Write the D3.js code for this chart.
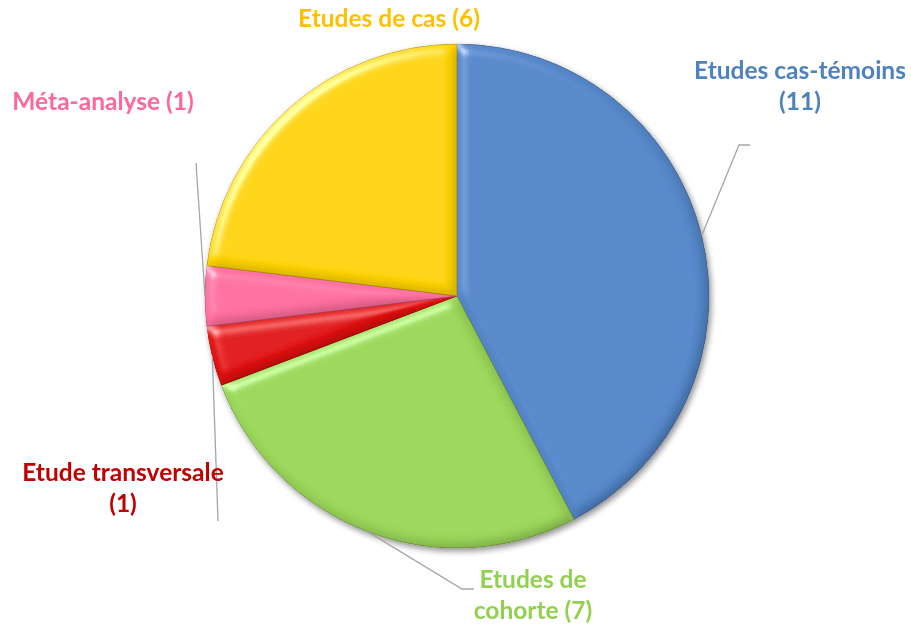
<!DOCTYPE html>
<html>
<head>
<meta charset="utf-8">
<script src="https://cdn.jsdelivr.net/npm/d3@7"></script>
<style>
  body { margin: 0; background: #fff; }
  svg { display: block; }
  text { font-family: Lato, "Open Sans", sans-serif; font-weight: 700; }
</style>
</head>
<body>
<svg id="chart" width="911" height="630"></svg>
<script>
// data, clockwise from 12 o'clock
const categories = ['Etudes cas-témoins', 'Etudes de cohorte', 'Etude transversale', 'Méta-analyse', 'Etudes de cas'];
const counts = [11, 7, 1, 1, 6];
const labelLines = [
  ['Etudes cas-témoins', '(11)'],
  ['Etudes de', 'cohorte (7)'],
  ['Etude transversale', '(1)'],
  ['Méta-analyse (1)'],
  ['Etudes de cas (6)']
];
const sliceColors = ['#5587c9', '#9bd75a', '#e00a0a', '#ff6f9f', '#ffd400'];
const textColors = ['#4f81bd', '#92d050', '#c00000', '#ff6699', '#ffc000'];

// label anchor (text centre x, first baseline y) and leader elbow, if any
const labelPos = [
  { x: 800, y: 79, elbow: [[739, 145], [750, 145]] },
  { x: 533, y: 588, elbow: [[462, 589], [474, 589]] },
  { x: 123, y: 481, elbow: [[218, 521]] },
  { x: 103, y: 110, elbow: [[196, 163]] },
  { x: 389, y: 27, elbow: null }
];

const svg = d3.select('#chart');
const cx = 457, cy = 296, radius = 252;

const defs = svg.append('defs');

const shadow = defs.append('filter').attr('id', 'shadow')
  .attr('x', '-10%').attr('y', '-10%').attr('width', '120%').attr('height', '120%');
shadow.append('feGaussianBlur').attr('in', 'SourceAlpha').attr('stdDeviation', 3).attr('result', 'b');
shadow.append('feOffset').attr('in', 'b').attr('dx', 2).attr('dy', 3).attr('result', 'o');
shadow.append('feComponentTransfer').attr('in', 'o').attr('result', 'os')
  .append('feFuncA').attr('type', 'linear').attr('slope', 0.45);
const sm = shadow.append('feMerge');
sm.append('feMergeNode').attr('in', 'os');
sm.append('feMergeNode').attr('in', 'SourceGraphic');

// bevel look: lighting on a blurred alpha of each slice
const bevel = defs.append('filter').attr('id', 'bevel')
  .attr('x', '-5%').attr('y', '-5%').attr('width', '110%').attr('height', '110%');
bevel.append('feGaussianBlur').attr('in', 'SourceAlpha').attr('stdDeviation', 6).attr('result', 'blur');
bevel.append('feSpecularLighting').attr('in', 'blur').attr('surfaceScale', 5)
  .attr('specularConstant', 0.7).attr('specularExponent', 45)
  .attr('lighting-color', '#ffffff').attr('result', 'spec')
  .append('feDistantLight').attr('azimuth', 225).attr('elevation', 45);
bevel.append('feComposite').attr('in', 'spec').attr('in2', 'SourceAlpha').attr('operator', 'in').attr('result', 'specIn');
bevel.append('feDiffuseLighting').attr('in', 'blur').attr('surfaceScale', 5)
  .attr('diffuseConstant', 1).attr('lighting-color', '#ffffff').attr('result', 'diff')
  .append('feDistantLight').attr('azimuth', 225).attr('elevation', 60);
bevel.append('feComposite').attr('in', 'SourceGraphic').attr('in2', 'diff')
  .attr('operator', 'arithmetic').attr('k1', 0.8).attr('k2', 0.31).attr('k3', 0).attr('k4', 0).attr('result', 'shaded');
bevel.append('feComposite').attr('in', 'specIn').attr('in2', 'shaded')
  .attr('operator', 'arithmetic').attr('k1', 0).attr('k2', 0.6).attr('k3', 1).attr('k4', 0).attr('result', 'lit');
bevel.append('feComposite').attr('in', 'lit').attr('in2', 'SourceAlpha').attr('operator', 'in');

const data = categories.map((c, i) => ({ name: c, value: counts[i], i }));
const pie = d3.pie().value(d => d.value).sort(null);
const arcs = pie(data);
const arc = d3.arc().innerRadius(0).outerRadius(radius);

const g = svg.append('g').attr('transform', `translate(${cx},${cy})`).attr('filter', 'url(#shadow)');
g.selectAll('path.slice')
  .data(arcs)
  .join('path')
  .attr('class', 'slice')
  .attr('d', arc)
  .attr('fill', d => sliceColors[d.data.i])
  .attr('stroke', d => d3.color(sliceColors[d.data.i]).darker(0.8))
  .attr('stroke-width', 0.8)
  .attr('filter', 'url(#bevel)');

// leader lines from the slice edge at its mid angle
const leaders = svg.append('g').attr('fill', 'none').attr('stroke', '#a6a6a6').attr('stroke-width', 1.3);
arcs.forEach(a => {
  const lp = labelPos[a.data.i];
  if (!lp.elbow) return;
  const mid = (a.startAngle + a.endAngle) / 2;
  const start = [cx + radius * Math.sin(mid), cy - radius * Math.cos(mid)];
  leaders.append('path').attr('d', d3.line()([start, ...lp.elbow]));
});

// labels
const labels = svg.append('g').attr('font-size', 24.5).attr('text-anchor', 'middle');
arcs.forEach(a => {
  const i = a.data.i, lp = labelPos[i];
  const t = labels.append('text').attr('fill', textColors[i]);
  labelLines[i].forEach((line, k) => {
    t.append('tspan').attr('x', lp.x).attr('y', lp.y + k * 31).text(line);
  });
});
</script>
</body>
</html>
